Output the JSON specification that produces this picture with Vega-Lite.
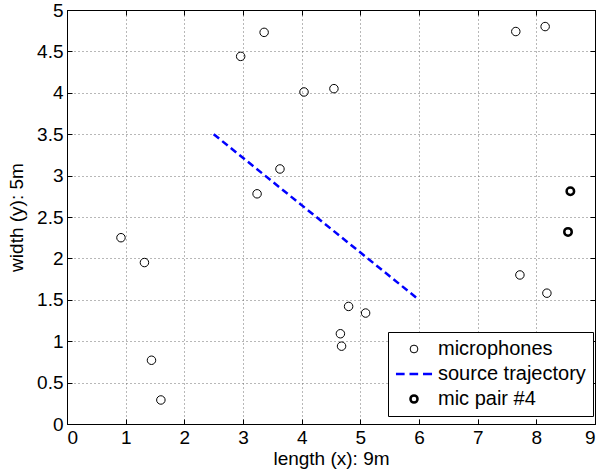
{
  "$schema": "https://vega.github.io/schema/vega-lite/v6.json",
  "width": 528,
  "height": 414,
  "autosize": {"type": "none"},
  "padding": {"left": 67, "top": 10, "right": 18, "bottom": 50},
  "background": "white",
  "config": {
    "font": "Liberation Sans",
    "view": {"stroke": "black", "strokeWidth": 1},
    "axis": {
      "domainColor": "black",
      "tickColor": "black",
      "labelColor": "black",
      "titleColor": "black",
      "labelFontSize": 19,
      "titleFontSize": 19,
      "titleFontWeight": "normal",
      "tickSize": -5,
      "gridColor": "#707070",
      "gridDash": [1, 3],
      "gridWidth": 1,
      "gridOpacity": 1
    }
  },
  "data": {
    "values": [
      {"x": 2.96, "y": 4.44, "series": "microphones"},
      {"x": 3.36, "y": 4.73, "series": "microphones"},
      {"x": 4.04, "y": 4.01, "series": "microphones"},
      {"x": 3.24, "y": 2.78, "series": "microphones"},
      {"x": 3.63, "y": 3.08, "series": "microphones"},
      {"x": 0.92, "y": 2.25, "series": "microphones"},
      {"x": 1.32, "y": 1.95, "series": "microphones"},
      {"x": 1.44, "y": 0.77, "series": "microphones"},
      {"x": 1.60, "y": 0.29, "series": "microphones"},
      {"x": 4.55, "y": 4.05, "series": "microphones"},
      {"x": 7.65, "y": 4.74, "series": "microphones"},
      {"x": 8.15, "y": 4.80, "series": "microphones"},
      {"x": 4.80, "y": 1.42, "series": "microphones"},
      {"x": 5.09, "y": 1.34, "series": "microphones"},
      {"x": 4.66, "y": 1.09, "series": "microphones"},
      {"x": 4.68, "y": 0.94, "series": "microphones"},
      {"x": 7.72, "y": 1.80, "series": "microphones"},
      {"x": 8.18, "y": 1.58, "series": "microphones"},
      {"x": 8.58, "y": 2.81, "series": "mic pair #4"},
      {"x": 8.54, "y": 2.32, "series": "mic pair #4"},
      {"x": 2.5, "y": 3.5, "series": "source trajectory"},
      {"x": 6.0, "y": 1.5, "series": "source trajectory"}
    ]
  },
  "layer": [
    {
      "transform": [{"filter": "datum.series === 'source trajectory'"}],
      "mark": {"type": "line", "strokeDash": [7, 4], "strokeWidth": 2.5},
      "encoding": {
        "x": {"field": "x", "type": "quantitative", "scale": {"domain": [0, 9], "nice": false},
          "axis": {"orient": "bottom", "title": "length (x): 9m", "values": [0,1,2,3,4,5,6,7,8,9], "grid": false, "labelPadding": 9, "titlePadding": 2}},
        "y": {"field": "y", "type": "quantitative", "scale": {"domain": [0, 5], "nice": false},
          "axis": {"orient": "left", "title": "width (y): 5m", "format": "~g", "values": [0,0.5,1,1.5,2,2.5,3,3.5,4,4.5,5], "grid": false, "labelPadding": 9, "titlePadding": 10}},
        "color": {"field": "series", "type": "nominal",
          "scale": {"domain": ["microphones", "source trajectory", "mic pair #4"], "range": ["black", "blue", "black"]},
          "legend": {
            "title": null,
            "orient": "none",
            "legendX": 321,
            "legendY": 322,
            "strokeColor": "black",
            "fillColor": "white",
            "padding": 7,
            "labelFontSize": 20,
            "labelColor": "black",
            "labelOffset": 23,
            "rowPadding": 5,
            "symbolSize": 1300,
            "symbolStrokeWidth": 1,
            "symbolFillColor": "transparent",
            "cornerRadius": 0,
            "encode": {
              "symbols": {
                "update": {
                  "x": {"value": 19},
                  "size": {"signal": "datum.value === 'source trajectory' ? 1300 : (datum.value === 'mic pair #4' ? 50 : 60)"},
                  "strokeWidth": {"signal": "datum.value === 'source trajectory' ? 2.5 : (datum.value === 'mic pair #4' ? 2.5 : 1)"},
                  "fill": {"value": "transparent"},
                  "fillOpacity": {"value": 0},
                  "strokeDash": {"value": []}
                }
              }
            }
          }
        },
        "shape": {"field": "series", "type": "nominal",
          "scale": {"domain": ["microphones", "source trajectory", "mic pair #4"], "range": ["circle", "M-1,0H-0.52M-0.25,0H0.23M0.5,0H1", "circle"]}}
      }
    },
    {
      "transform": [{"filter": "datum.series === 'microphones'"}],
      "mark": {"type": "point", "filled": false, "size": 72, "strokeWidth": 1, "opacity": 1},
      "encoding": {
        "x": {"field": "x", "type": "quantitative", "axis": null},
        "y": {"field": "y", "type": "quantitative", "axis": null},
        "color": {"field": "series", "type": "nominal"},
        "shape": {"field": "series", "type": "nominal"}
      }
    },
    {
      "transform": [{"filter": "datum.series === 'mic pair #4'"}],
      "mark": {"type": "point", "filled": false, "size": 56, "strokeWidth": 2.5, "opacity": 1},
      "encoding": {
        "x": {"field": "x", "type": "quantitative", "axis": null},
        "y": {"field": "y", "type": "quantitative", "axis": null},
        "color": {"field": "series", "type": "nominal"},
        "shape": {"field": "series", "type": "nominal"}
      }
    },
    {
      "transform": [{"filter": "datum.series === 'microphones'"}],
      "mark": {"type": "point", "opacity": 0},
      "encoding": {
        "x": {"field": "x", "type": "quantitative",
          "axis": {"orient": "top", "title": null, "labels": false, "values": [0,1,2,3,4,5,6,7,8,9], "grid": true}},
        "y": {"field": "y", "type": "quantitative",
          "axis": {"orient": "right", "title": null, "labels": false, "values": [0,0.5,1,1.5,2,2.5,3,3.5,4,4.5,5], "grid": true}}
      }
    }
  ],
  "resolve": {"axis": {"x": "independent", "y": "independent"}}
}
